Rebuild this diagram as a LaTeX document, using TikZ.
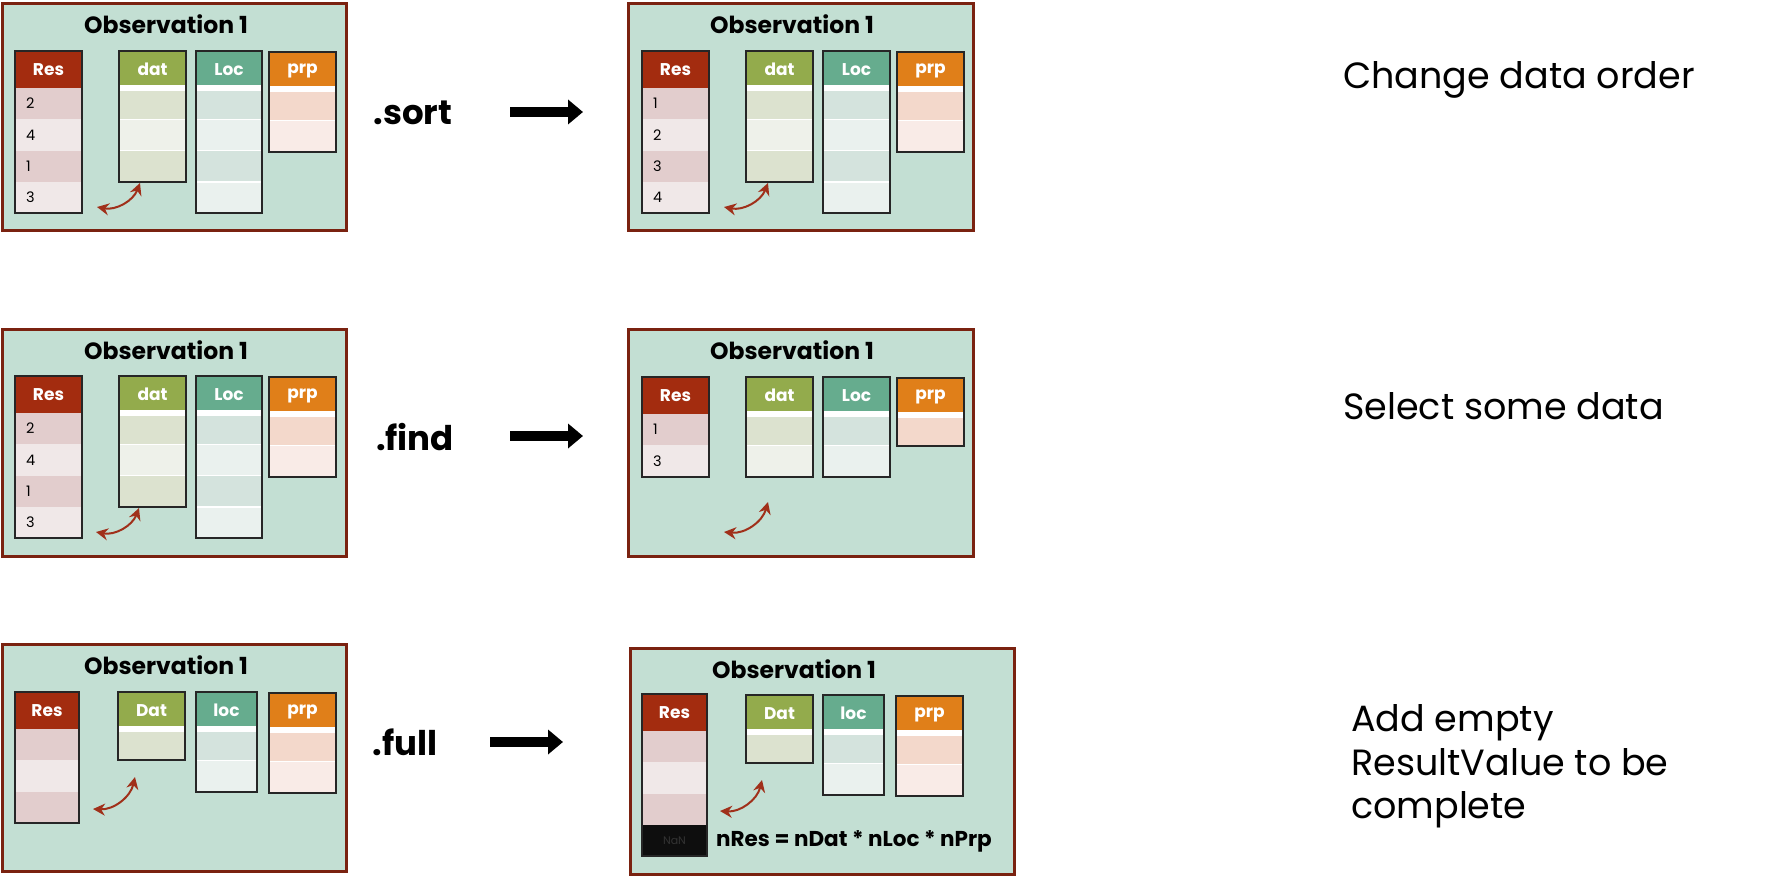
\documentclass[tikz,border=0pt]{standalone}
\usepackage{fontspec}
\setmainfont{Poppins}
\usetikzlibrary{arrows.meta,positioning}

\definecolor{panelfill}{HTML}{C3DFD3}
\definecolor{panelline}{HTML}{7A2210}
\definecolor{swapred}{HTML}{A0301A}
\definecolor{headres}{HTML}{A32C0F}
\definecolor{rowAres}{HTML}{E2CDCD}
\definecolor{rowBres}{HTML}{F0E8E8}
\definecolor{headdat}{HTML}{93AB4C}
\definecolor{rowAdat}{HTML}{DCE2CF}
\definecolor{rowBdat}{HTML}{EEF1EA}
\definecolor{headloc}{HTML}{66AC8E}
\definecolor{rowAloc}{HTML}{D4E3DD}
\definecolor{rowBloc}{HTML}{EAF1EE}
\definecolor{headprp}{HTML}{E07F19}
\definecolor{rowAprp}{HTML}{F3D8CB}
\definecolor{rowBprp}{HTML}{F9EBE7}
\definecolor{nanblack}{HTML}{0E0E0E}

\tikzset{
  panel/.style={draw=panelline, fill=panelfill, line width=3pt, inner sep=0pt, outer sep=0pt, anchor=north west},
  obstitle/.style={anchor=base, inner sep=0pt, font=\fontsize{23.5}{28}\selectfont\bfseries},
  colhead/.style={anchor=north west, inner sep=0pt, outer sep=0pt, minimum height=37, text=white, font=\fontsize{17}{20}\selectfont\bfseries},
  colrow/.style={anchor=north west, inner sep=0pt, outer sep=0pt, minimum height=31.3},
  colframe/.style={draw=black!85, line width=2pt},
  sep res/.style={draw=none},
  sep dat/.style={draw=white, line width=1.5pt},
  sep loc/.style={draw=white, line width=1.5pt},
  sep prp/.style={draw=white, line width=1.5pt},
  band res/.style={draw=none},
  band dat/.style={draw=white, line width=6pt},
  band loc/.style={draw=white, line width=6pt},
  band prp/.style={draw=white, line width=6pt},
  rownum/.style={inner sep=0pt, font=\fontsize{14.5}{17}\selectfont},
  nantext/.style={inner sep=0pt, text=black!80, font=\fontsize{11}{13}\selectfont},
  swaparrow/.style={draw=swapred, line width=2pt, {Stealth[length=12pt,width=12pt]}-{Stealth[length=12pt,width=12pt]}, bend right=40},
  opname/.style={anchor=base, inner sep=0pt, font=\fontsize{34}{40}\selectfont\bfseries},
  bigarrow/.style={line width=10pt, -{Triangle[length=15pt,width=24pt]}},
  formula/.style={anchor=base west, inner sep=0pt, font=\fontsize{21.5}{26}\selectfont\bfseries},
  desc/.style={anchor=base west, inner sep=0pt, font=\fontsize{36.5}{44}\selectfont},
}

\begin{document}
\begin{tikzpicture}[x=1pt, y=-1pt]
\useasboundingbox (0,0) rectangle (1782,877);

% one column of an observation: kind, name, left, top, width, rows, header
\def\datacol#1#2#3#4#5#6#7{%
  \node[colhead, fill=head#1, minimum width=#5] (#2) at (#3,#4) {#7};
  \foreach \j in {1,...,#6} {
    \ifodd\j\relax \def\rowcol{rowA#1}\else \def\rowcol{rowB#1}\fi
    \pgfmathsetmacro\rowy{#4+37+(\j-1)*31.3}
    \node[colrow, fill=\rowcol, minimum width=#5] (#2-\j) at (#3,\rowy) {};
    \ifnum\j>1 \draw[sep #1] (#2-\j.north west) -- (#2-\j.north east); \fi
  }
  \draw[band #1] (#2.south west) -- (#2.south east);
  \draw[colframe] (#2.north west) rectangle (#2-#6.south east);
}

% panels
\foreach \p/\x/\y/\w/\h in {1/2/4/344/227, 2/628/4/345/227, 3/2/329/344/227,
  4/628/329/345/227, 5/2/644/344/227, 6/630/648/384/226} {
  \node[panel, minimum width=\w, minimum height=\h] (obs\p) at (\x,\y) {};
  \node[obstitle] (title\p) at (\x+164,\y+30) {Observation 1};
}

% columns
\foreach \k/\n/\x/\y/\w/\m/\lab in {
  res/res1/15/51/67/4/Res, dat/dat1/119/51/67/3/dat, loc/loc1/196/51/66/4/Loc, prp/prp1/269/52/67/2/prp,
  res/res2/642/51/67/4/Res, dat/dat2/746/51/67/3/dat, loc/loc2/823/51/67/4/Loc, prp/prp2/897/52/67/2/prp,
  res/res3/15/376/67/4/Res, dat/dat3/119/376/67/3/dat, loc/loc3/196/376/66/4/Loc, prp/prp3/269/377/67/2/prp,
  res/res4/642/377/67/2/Res, dat/dat4/746/377/67/2/dat, loc/loc4/823/377/67/2/Loc, prp/prp4/897/378/67/1/prp,
  res/res5/15/692/64/3/Res, dat/dat5/118/692/67/1/Dat, loc/loc5/196/692/61/2/loc, prp/prp5/269/693/67/2/prp,
  res/res6/642/694/65/4/Res, dat/dat6/746/695/67/1/Dat, loc/loc6/823/695/61/2/loc, prp/prp6/896/696/67/2/prp
} {
  \datacol{\k}{\n}{\x}{\y}{\w}{\m}{\lab}
}

% result values
\foreach \v [count=\i] in {2,4,1,3} \node[rownum, right=11pt of res1-\i.west] (num1-\i) {\v};
\foreach \v [count=\i] in {1,2,3,4} \node[rownum, right=11pt of res2-\i.west] (num2-\i) {\v};
\foreach \v [count=\i] in {2,4,1,3} \node[rownum, right=11pt of res3-\i.west] (num3-\i) {\v};
\foreach \v [count=\i] in {1,3} \node[rownum, right=11pt of res4-\i.west] (num4-\i) {\v};

\fill[nanblack] (res6-4.north west) rectangle (res6-4.south east);
\node[nantext] (nan6) at (res6-4) {NaN};
\draw[colframe] (res6.north west) rectangle (res6-4.south east);
\node[formula] (nres) at (716,846) {nRes = nDat * nLoc * nPrp};

% link arrows
\foreach \p/\ax/\ay/\bx/\by in {1/97/207/140/183, 2/724/207/768/183, 3/96/532/139/508,
  4/724/532/768/502, 5/93/809/135/777, 6/720/811/762/780} {
  \coordinate (swapA\p) at (\ax,\ay);
  \coordinate (swapB\p) at (\bx,\by);
  \draw[swaparrow] (swapA\p) to (swapB\p);
}

% operations
\node[opname] (sortop) at (413,125) {.sort};
\node[opname] (findop) at (415,450) {.find};
\node[opname] (fullop) at (405,755) {.full};
\coordinate (sortfrom) at (510,112); \coordinate (sortto) at (583,112);
\coordinate (findfrom) at (510,436); \coordinate (findto) at (583,436);
\coordinate (fullfrom) at (490,742); \coordinate (fullto) at (563,742);
\draw[bigarrow] (sortfrom) -- (sortto);
\draw[bigarrow] (findfrom) -- (findto);
\draw[bigarrow] (fullfrom) -- (fullto);

\node[desc] (whatsort) at (1343,89) {Change data order};
\node[desc] (whatfind) at (1343,419) {Select some data};
\node[desc] (whatfull1) at (1351,731) {Add empty};
\node[desc] (whatfull2) at (1351,775) {ResultValue to be};
\node[desc] (whatfull3) at (1351,818) {complete};
\end{tikzpicture}
\end{document}
